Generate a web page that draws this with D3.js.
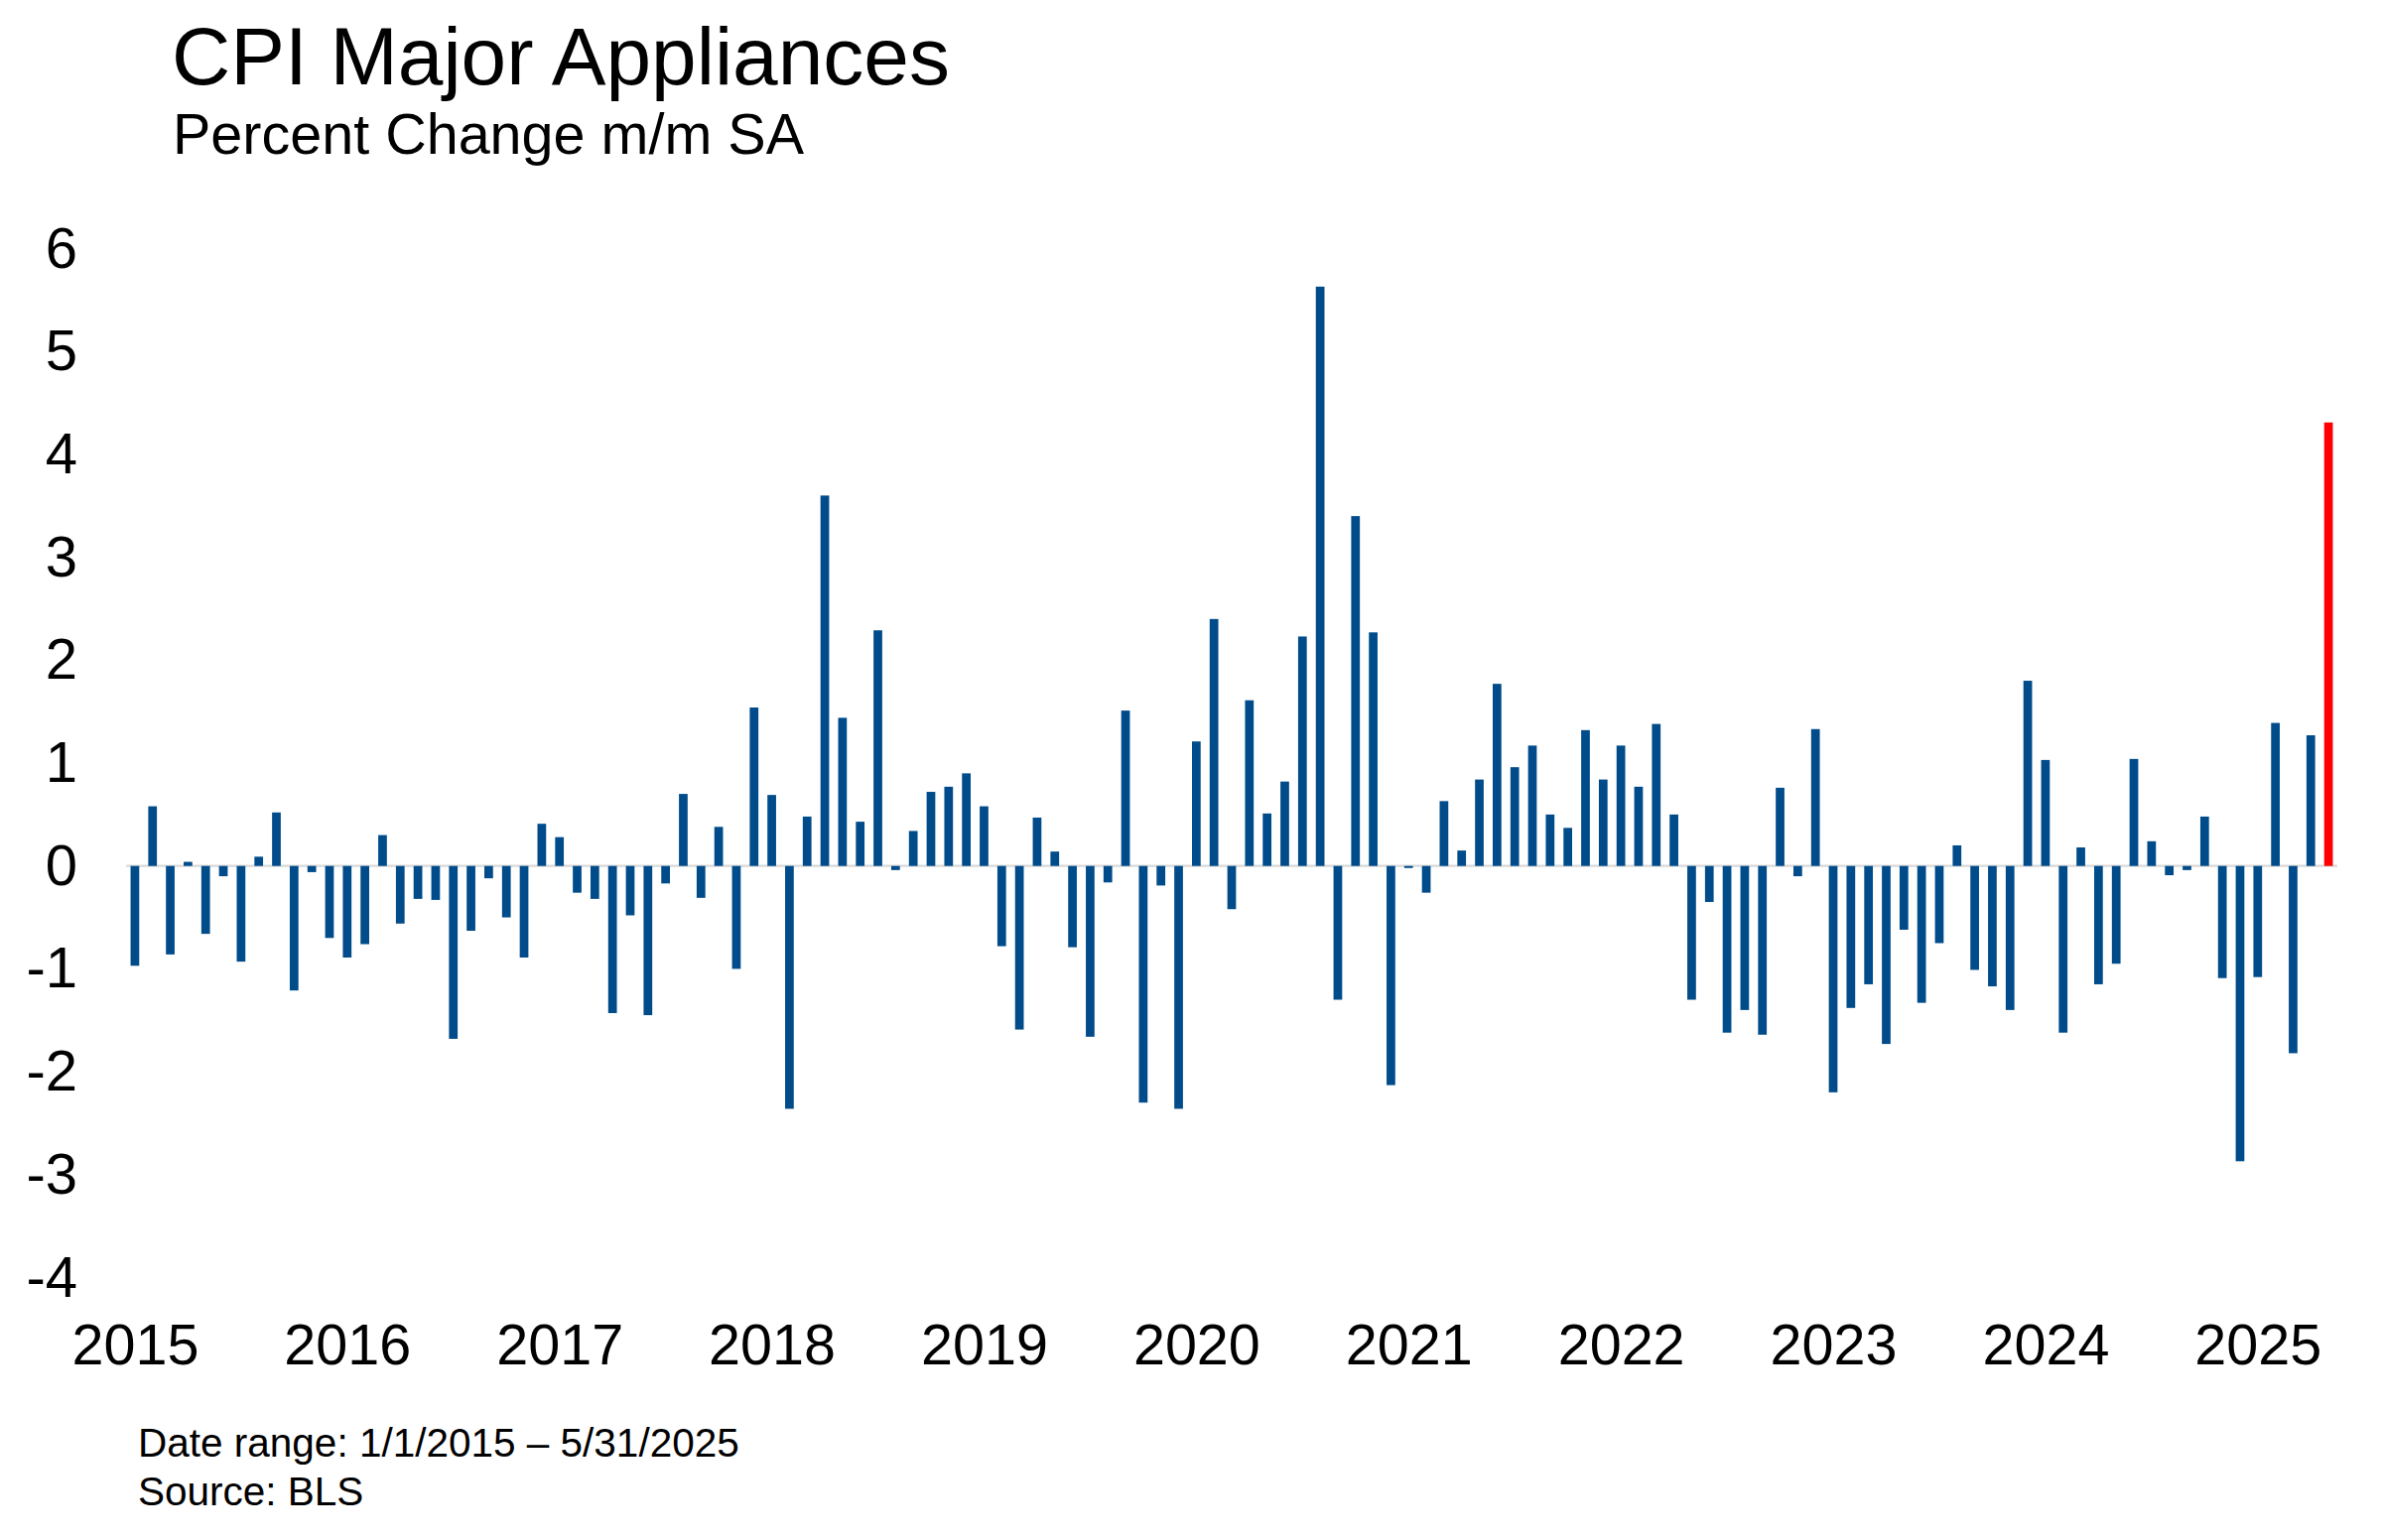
<!DOCTYPE html>
<html>
<head>
<meta charset="utf-8">
<script src="https://cdn.jsdelivr.net/npm/d3@7"></script>
<style>
  body { margin: 0; background: #fff; }
  svg { display: block; font-family: "Liberation Sans", Arial, sans-serif; }
</style>
</head>
<body>
<svg width="2400" height="1552"></svg>
<script>
// CPI Major Appliances, % change m/m SA, Jan 2015 .. May 2025
const startYear = 2015
const values = [
  -0.97, 0.58, -0.86, 0.04, -0.66, -0.10, -0.93, 0.09, 0.52, -1.21, -0.06, -0.70,   // 2015
  -0.89, -0.76, 0.30, -0.56, -0.32, -0.33, -1.68, -0.63, -0.12, -0.50, -0.89, 0.41, // 2016
  0.28, -0.26, -0.32, -1.43, -0.48, -1.45, -0.17, 0.70, -0.31, 0.38, -1.00, 1.54,   // 2017
  0.69, -2.36, 0.48, 3.60, 1.44, 0.43, 2.29, -0.04, 0.34, 0.72, 0.77, 0.90,         // 2018
  0.58, -0.78, -1.59, 0.47, 0.14, -0.79, -1.66, -0.16, 1.51, -2.30, -0.19, -2.36,   // 2019
  1.21, 2.40, -0.42, 1.61, 0.51, 0.82, 2.23, 5.63, -1.30, 3.40, 2.27, -2.13,        // 2020
  -0.02, -0.26, 0.63, 0.15, 0.84, 1.77, 0.96, 1.17, 0.50, 0.37, 1.32, 0.84,         // 2021
  1.17, 0.77, 1.38, 0.50, -1.30, -0.35, -1.62, -1.40, -1.64, 0.76, -0.10, 1.33,     // 2022
  -2.20, -1.38, -1.15, -1.73, -0.62, -1.33, -0.75, 0.20, -1.01, -1.17, -1.40, 1.80, // 2023
  1.03, -1.62, 0.18, -1.15, -0.95, 1.04, 0.24, -0.09, -0.04, 0.48, -1.09, -2.87,    // 2024
  -1.08, 1.39, -1.82, 1.27, 4.31                                                     // 2025
]
const months = values.map((v, i) => `${startYear + Math.floor(i / 12)}-${String(i % 12 + 1).padStart(2, "0")}`)
const yearTicks = d3.range(2015, 2026).map(y => `${y}-01`)
const yTicks = [-4, -3, -2, -1, 0, 1, 2, 3, 4, 5, 6]

const svg = d3.select("svg")

const x = d3.scalePoint()
  .domain(months)
  .range([127, 2355])
  .padding(0.5)

const y = d3.scaleLinear()
  .domain([-4, 6])
  .range([1287.5, 250.5])

const barW = x.step() * 0.49

// title block
svg.append("text")
  .attr("x", 173).attr("y", 85)
  .style("font-size", "82px")
  .text("CPI Major Appliances")

svg.append("text")
  .attr("x", 174).attr("y", 155)
  .style("font-size", "57.5px")
  .text("Percent Change m/m SA")

// zero line
svg.append("line")
  .attr("x1", 127).attr("x2", 2355)
  .attr("y1", y(0)).attr("y2", y(0))
  .style("stroke", "#d9d9d9")
  .style("stroke-width", "2.3px")

// bars
svg.append("g")
  .selectAll("rect")
  .data(values)
  .enter()
  .append("rect")
    .attr("x", (d, i) => x(months[i]) - barW / 2)
    .attr("width", barW)
    .attr("y", d => y(Math.max(0, d)))
    .attr("height", d => Math.abs(y(d) - y(0)))
    .style("fill", (d, i) => i === values.length - 1 ? "#ff0000" : "#004c8a")

// y axis
const yAxis = svg.append("g")
  .attr("transform", "translate(78,0)")
  .call(d3.axisLeft(y).tickValues(yTicks).tickSize(0).tickPadding(0).tickFormat(d => String(d)))
yAxis.select(".domain").remove()
yAxis.selectAll("text")
  .style("font-size", "58px")
  .style("font-family", "Liberation Sans, Arial, sans-serif")
  .style("fill", "#000")

// x axis, years under each January
const xAxis = svg.append("g")
  .attr("transform", "translate(0,1334)")
  .call(d3.axisBottom(x).tickValues(yearTicks).tickSize(0).tickPadding(0).tickFormat(d => d.slice(0, 4)))
xAxis.select(".domain").remove()
xAxis.selectAll("text")
  .style("font-size", "57.5px")
  .style("font-family", "Liberation Sans, Arial, sans-serif")
  .style("fill", "#000")

// footnotes
svg.append("text")
  .attr("x", 139).attr("y", 1468)
  .style("font-size", "40.5px")
  .text("Date range: 1/1/2015 \u2013 5/31/2025")

svg.append("text")
  .attr("x", 139).attr("y", 1517)
  .style("font-size", "40.5px")
  .text("Source: BLS")
</script>
</body>
</html>
